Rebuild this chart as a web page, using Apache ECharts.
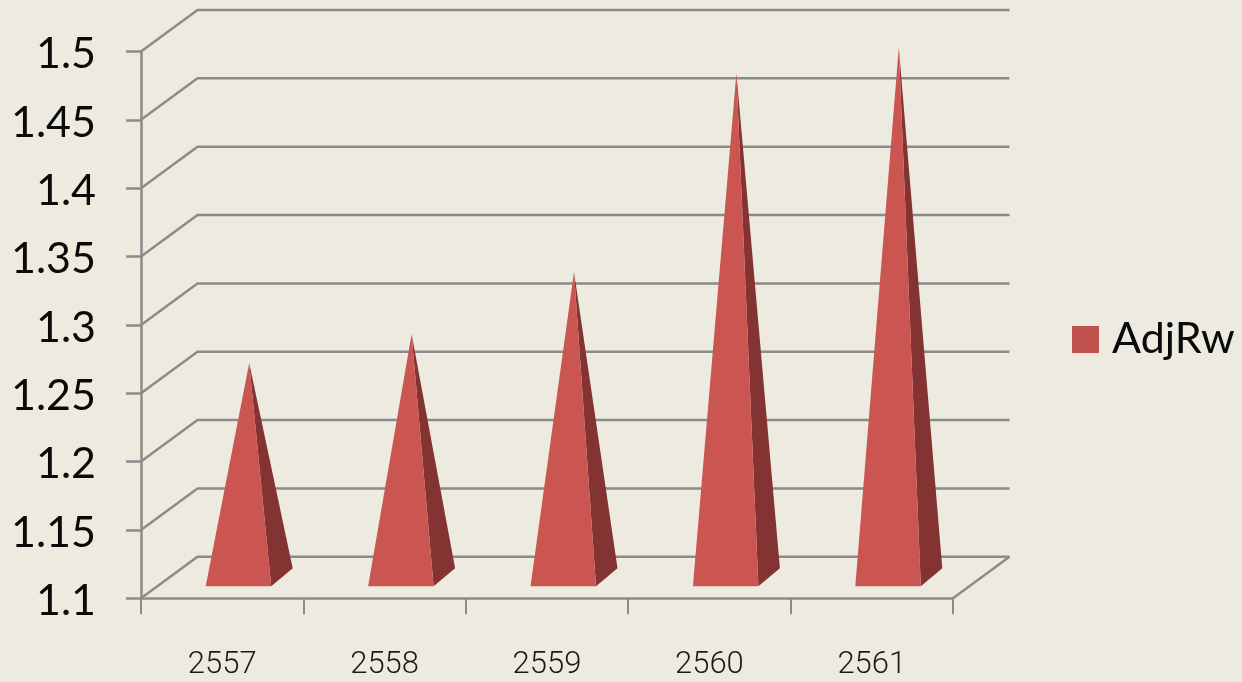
<!DOCTYPE html>
<html>
<head>
<meta charset="utf-8">
<style>html,body{margin:0;padding:0;background:#edebe0}#c{width:1242px;height:682px}</style>
<script src="https://cdn.jsdelivr.net/npm/echarts@6/dist/echarts.min.js"></script>
</head>
<body>
<div id="c"></div>
<script>
const categories = ['2557','2558','2559','2560','2561'];
const adjRw = [1.2568, 1.278, 1.3234, 1.469, 1.4875];
const yTicks = [1.1,1.15,1.2,1.25,1.3,1.35,1.4,1.45,1.5];
const LINE = '#8b8b8b';
const DEPTH_X = 56.5, DEPTH_Y = 41.5;

function renderWall(params, api){
  const v = api.value(0);
  const p = api.coord([0, v]);
  const band = api.size([1,0])[0];
  const L = p[0]-band/2, R = L+band*categories.length, y = p[1];
  const children = [{
    type:'polyline',
    shape:{points:[[L,y],[L+DEPTH_X,y-DEPTH_Y],[R+DEPTH_X,y-DEPTH_Y]]},
    style:{fill:null,stroke:LINE,lineWidth:2.5}
  }];
  if (params.dataIndex === 0) {
    children.push({type:'line',shape:{x1:R,y1:y,x2:R+DEPTH_X,y2:y-DEPTH_Y},style:{stroke:LINE,lineWidth:2.5}});
  }
  return {type:'group',children};
}
function renderPyramid(params, api){
  const c = api.coord([api.value(0), api.value(1)]);
  const floor = api.coord([api.value(0), 1.1])[1];
  const cx = c[0];
  const fl=[cx-16.5,floor-12], fr=[cx+49,floor-12], br=[cx+70.5,floor-30];
  const apex=[cx+27,c[1]-21];
  return {type:'group',children:[
    {type:'polygon',shape:{points:[fr,br,apex]},style:{fill:'#833432'}},
    {type:'polygon',shape:{points:[fl,fr,apex]},style:{fill:'#cb5550'}}
  ]};
}
const chart = echarts.init(document.getElementById('c'));
chart.setOption({
  animation:false,
  backgroundColor:'#edebe0',
  grid:{left:141,right:289,top:51.5,height:546.8,containLabel:false},
  legend:{show:true,data:[{name:'AdjRw',icon:'rect',itemStyle:{color:'#c0504d'}}],left:1067,top:313,itemWidth:27,itemHeight:27,itemGap:14,
    textStyle:{fontFamily:'Lato',fontSize:43,color:'#0a0a0a',padding:[0,0,0,8]},selectedMode:false},
  xAxis:{type:'category',data:categories,boundaryGap:true,
    axisLine:{lineStyle:{color:LINE,width:2.5}},
    axisTick:{show:true,length:16,alignWithLabel:false,lineStyle:{color:LINE,width:2}},
    axisLabel:{margin:51,fontFamily:'Roboto',fontWeight:300,fontSize:31,color:'#1a1a1a'}},
  yAxis:{type:'value',min:1.1,max:1.5,interval:0.05,
    axisLine:{show:true,lineStyle:{color:LINE,width:2.5}},
    axisTick:{show:true,length:15,lineStyle:{color:LINE,width:2.5}},
    splitLine:{show:false},
    axisLabel:{margin:45,fontFamily:'Lato',fontSize:43,color:'#0a0a0a',verticalAlign:'top',lineHeight:6}},
  series:[
    {type:'custom',name:'wall',silent:true,clip:false,z:1,data:yTicks.map(v=>[v]),
      encode:{y:0},renderItem:renderWall},
    {type:'custom',name:'AdjRw',clip:false,z:3,itemStyle:{color:'#cb5550'},
      data:adjRw.map((v,i)=>[i,v]),encode:{x:0,y:1},renderItem:renderPyramid}
  ]
});
</script>
</body>
</html>
